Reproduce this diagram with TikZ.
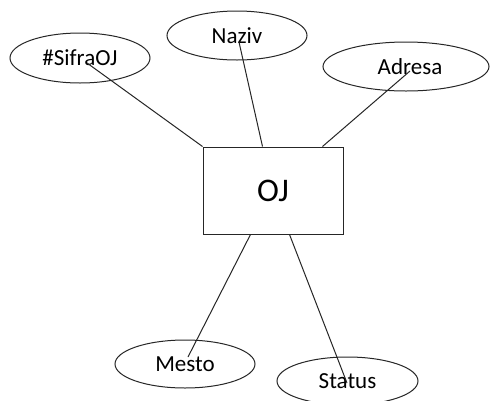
\documentclass[tikz,border=0pt]{standalone}
\usepackage{fontspec}
\setmainfont{Carlito}
\usetikzlibrary{shapes.geometric,calc}
\begin{document}
\begin{tikzpicture}[x=1pt,y=-1pt,
  attr/.style={draw=black!85, line width=1pt, ellipse, inner sep=0pt,
    minimum width=140pt, minimum height=49pt, font=\fontsize{23}{26}\selectfont},
  entity/.style={draw=black!85, line width=1pt, rectangle, inner sep=0pt,
    minimum width=140pt, minimum height=87pt, font=\fontsize{33}{36}\selectfont},
  link/.style={draw=black!85, line width=1pt}]
  \useasboundingbox[fill=white] (0,0) rectangle (491,400);

  % entity
  \node[entity] (oj) at (273,190.5) {OJ};

  % attributes
  \node[attr, minimum height=50pt] (sifra) at (80,58) {\#SifraOJ};
  \node[attr] (naziv) at (237,35.5) {Naziv};
  \node[attr, minimum width=166pt] (adresa) at (406,66.5) {\hspace*{8pt}Adresa};
  \node[attr, minimum height=48pt] (mesto) at (185,364) {Mesto};
  \node[attr, minimum width=141pt, minimum height=48pt] (status) at (347.5,381) {Status};

  % inner ends of the connectors
  \coordinate (sifraEnd) at (87,63);
  \coordinate (nazivEnd) at (239,42);
  \coordinate (adresaEnd) at (410,71);
  \coordinate (mestoEnd) at (188,357);
  \coordinate (statusEnd) at (347,383);

  % connectors
  \draw[link] (oj.north west) -- (sifraEnd);
  \draw[link] ($(oj.north west)+(60,0)$) -- (nazivEnd);
  \draw[link] ($(oj.north west)+(120,0)$) -- (adresaEnd);
  \draw[link] ($(oj.south west)+(48,0)$) -- (mestoEnd);
  \draw[link] ($(oj.south west)+(87,0)$) -- (statusEnd);
\end{tikzpicture}
\end{document}
